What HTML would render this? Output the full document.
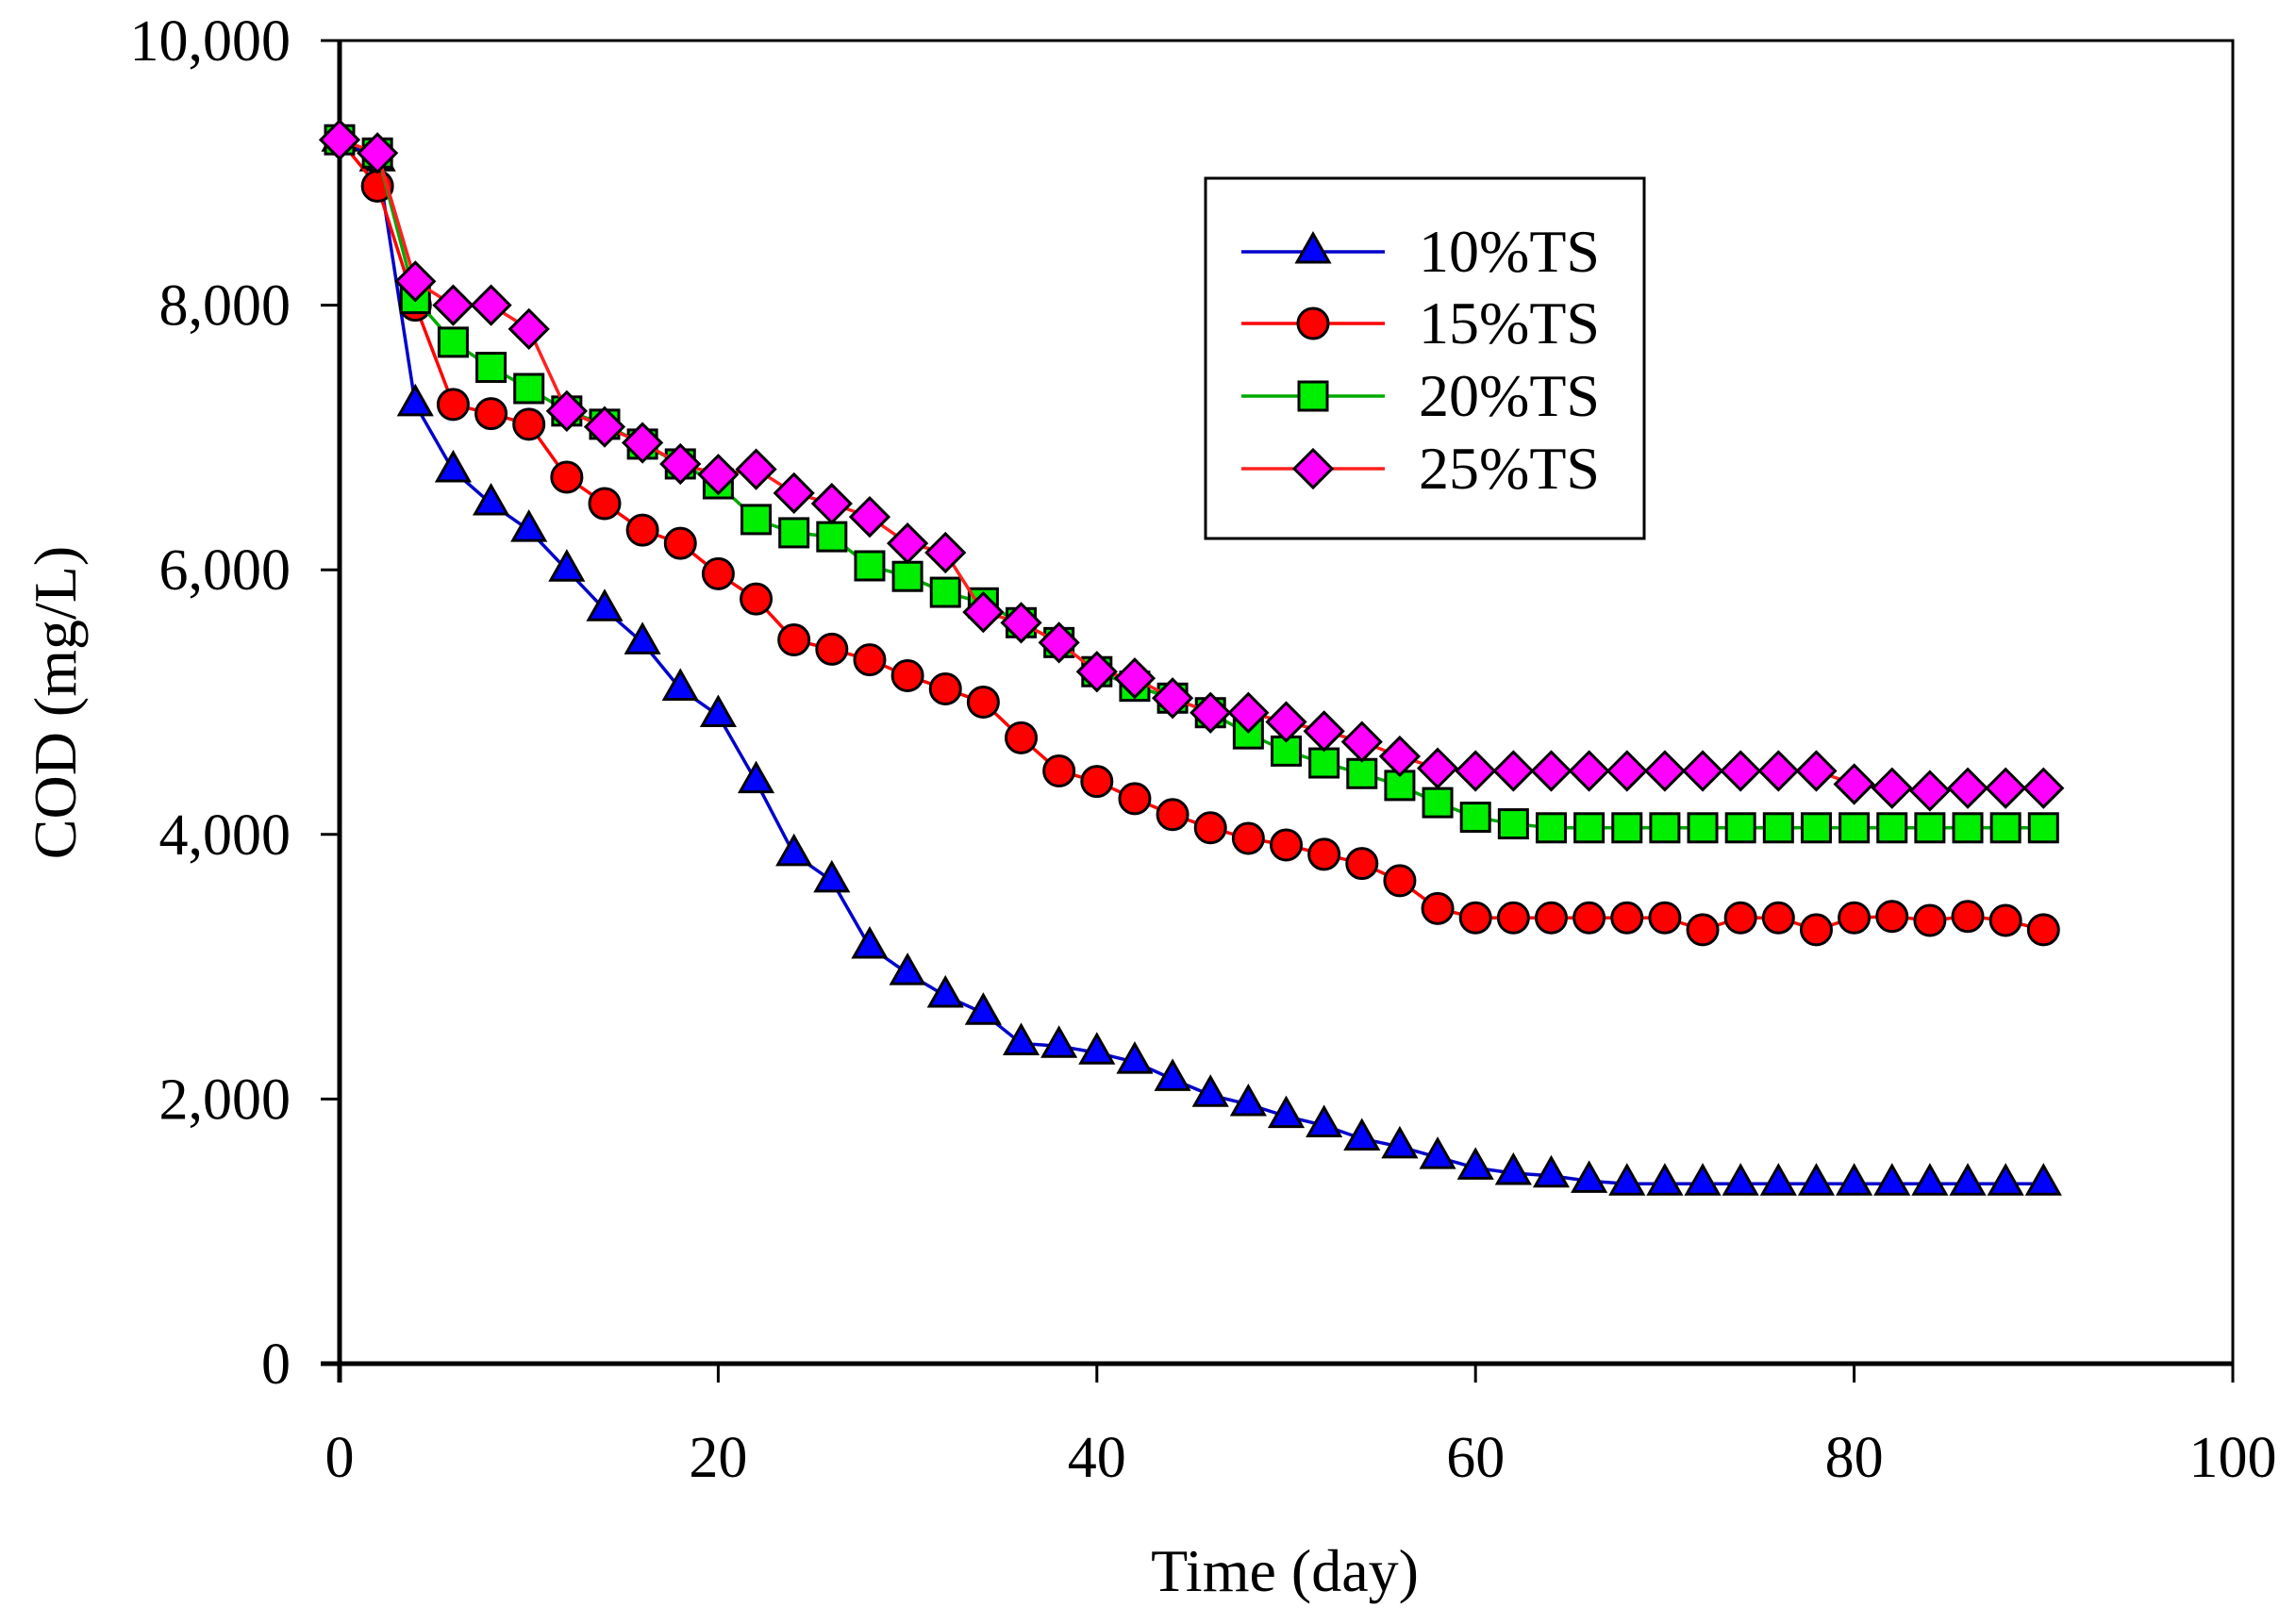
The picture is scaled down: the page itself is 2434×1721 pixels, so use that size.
<!DOCTYPE html>
<html><head><meta charset="utf-8">
<style>
html,body{margin:0;padding:0;background:#fff;}
svg{display:block;font-family:"Liberation Serif","Times New Roman",serif;}
</style></head>
<body>
<svg id="chart" width="2434" height="1721" viewBox="0 0 2434 1721" xmlns="http://www.w3.org/2000/svg">
<rect width="2434" height="1721" fill="#fff"/>
<g id="plot"></g>
<text x="0" y="0" transform="translate(80,745) rotate(-90)" text-anchor="middle" font-size="64">COD (mg/L)</text>
<text x="1362" y="1687" text-anchor="middle" font-size="64">Time (day)</text>
<g id="legend"></g>
</svg>
<script>
const days = [0,2,4,6,8,10,12,14,16,18,20,22,24,26,28,30,32,34,36,38,40,42,44,46,48,50,52,54,56,58,60,62,64,66,68,70,72,74,76,78,80,82,84,86,88,90];
const ts10 = [9250,9100,7250,6750,6500,6300,6000,5700,5450,5100,4900,4400,3850,3650,3150,2950,2780,2650,2420,2400,2350,2280,2150,2030,1960,1870,1800,1700,1640,1560,1480,1440,1420,1380,1360,1360,1360,1360,1360,1360,1360,1360,1360,1360,1360,1360];
const ts15 = [9250,8900,8000,7250,7180,7100,6700,6500,6300,6200,5970,5780,5470,5400,5320,5200,5100,5000,4730,4480,4400,4270,4150,4050,3970,3920,3850,3780,3650,3440,3370,3370,3370,3370,3370,3370,3280,3370,3370,3280,3370,3380,3350,3380,3350,3280];
const ts20 = [9250,9150,8050,7720,7530,7370,7200,7100,6950,6800,6650,6380,6280,6250,6030,5950,5830,5750,5600,5450,5230,5120,5030,4920,4760,4630,4540,4460,4370,4240,4130,4080,4050,4050,4050,4050,4050,4050,4050,4050,4050,4050,4050,4050,4050,4050];
const ts25 = [9250,9150,8180,8000,8000,7820,7200,7080,6960,6800,6720,6760,6580,6500,6400,6200,6130,5680,5600,5450,5230,5180,5030,4920,4920,4850,4780,4700,4590,4500,4480,4480,4480,4480,4480,4480,4480,4480,4480,4480,4380,4350,4330,4350,4350,4350];
const seriesNames = ["10%TS","15%TS","20%TS","25%TS"];
const xTicks = [0,20,40,60,80,100];
const yTicks = [0,2000,4000,6000,8000,10000];
const yTickLabels = ["0","2,000","4,000","6,000","8,000","10,000"];

const NS="http://www.w3.org/2000/svg";
const L=360,R=2367,T=43,B=1446;
const xs=v=>L+(v-0)/(100-0)*(R-L);
const ys=v=>B-(v-0)/(10000-0)*(B-T);
function mk(tag,attrs,parent){const e=document.createElementNS(NS,tag);for(const k in attrs)e.setAttribute(k,attrs[k]);parent.appendChild(e);return e;}
const plot=document.getElementById('plot');
const legend=document.getElementById('legend');

function marker(kind,cx,cy,parent){
  let e;const s=16;
  if(kind==='tri'){e=mk('polygon',{points:`${cx},${cy-19} ${cx-17},${cy+11} ${cx+17},${cy+11}`,fill:'#0000ff',stroke:'#000','stroke-width':3},parent);}
  else if(kind==='circ'){e=mk('circle',{cx:cx,cy:cy,r:16,fill:'#ff0000',stroke:'#000','stroke-width':3},parent);}
  else if(kind==='sq'){e=mk('rect',{x:cx-s+1,y:cy-s+1,width:2*s-2,height:2*s-2,fill:'#00ee00',stroke:'#000','stroke-width':3},parent);}
  else {e=mk('polygon',{points:`${cx},${cy-20} ${cx+20},${cy} ${cx},${cy+20} ${cx-20},${cy}`,fill:'#ff00ff',stroke:'#000','stroke-width':3},parent);}
  return e;
}

const frame=mk('rect',{x:L,y:T,width:R-L,height:B-T,fill:'none',stroke:'#000','stroke-width':3},plot);


const ax1=mk('line',{x1:L,x2:L,y1:T,y2:B+20,stroke:'#000','stroke-width':5},plot);


const ax2=mk('line',{x1:L-20,x2:R,y1:B,y2:B,stroke:'#000','stroke-width':5},plot);


xTicks.forEach(v=>{
  const t=mk('line',{x1:xs(v),x2:xs(v),y1:B,y2:B+20,stroke:'#000','stroke-width':3},plot);
  
  
  const lb=mk('text',{x:xs(v),y:B+120,'text-anchor':'middle','font-size':62},plot);
  lb.textContent=String(v);
  
  
});
yTicks.forEach((v,i)=>{
  const t=mk('line',{x1:L-20,x2:L,y1:ys(v),y2:ys(v),stroke:'#000','stroke-width':3},plot);
  
  
  const lb=mk('text',{x:L-52,y:ys(v)+21,'text-anchor':'end','font-size':62},plot);
  lb.textContent=yTickLabels[i];
  
  
});

const series=[
  {vals:ts10,line:'#0000cc',kind:'tri'},
  {vals:ts15,line:'#ff0000',kind:'circ'},
  {vals:ts20,line:'#00aa00',kind:'sq'},
  {vals:ts25,line:'#ff2020',kind:'dia'}
];
series.forEach((s,si)=>{
  const g=mk('g',{},plot);
  
  
  const pl=mk('polyline',{points:s.vals.map((v,i)=>xs(days[i])+','+ys(v)).join(' '),fill:'none',stroke:s.line,'stroke-width':3.5},g);
  
  
  s.vals.forEach((v,i)=>{
    const m=marker(s.kind,xs(days[i]),ys(v),g);
    
    
  });
});

const lbox=mk('rect',{x:1278,y:189,width:465,height:382,fill:'#fff',stroke:'#000','stroke-width':3},legend);


const ly=[267,343,420,497];
series.forEach((s,si)=>{
  const g=mk('g',{},legend);
  
  
  mk('line',{x1:1316,x2:1468,y1:ly[si],y2:ly[si],stroke:s.line,'stroke-width':3.5},g);
  marker(s.kind,1392,ly[si],g);
  const t=mk('text',{x:1504,y:ly[si]+21,'font-size':64},g);
  t.textContent=seriesNames[si];
});
</script>
</body></html>
